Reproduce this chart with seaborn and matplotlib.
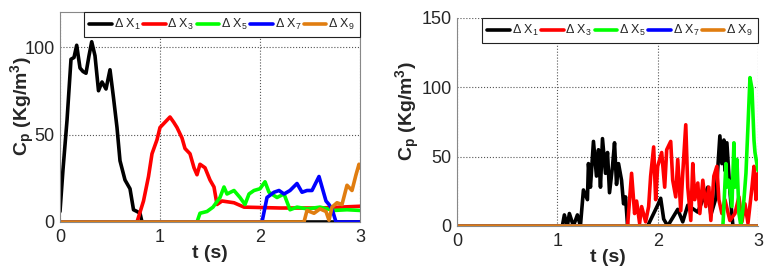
import pandas as pd
import matplotlib
matplotlib.use("Agg")
import matplotlib.pyplot as plt
import seaborn as sns

# ---- left panel data ----
names = ['ΔX1', 'ΔX3', 'ΔX5', 'ΔX7', 'ΔX9']
labels = [r'Δ X$_\mathregular{1}$', r'Δ X$_\mathregular{3}$', r'Δ X$_\mathregular{5}$',
          r'Δ X$_\mathregular{7}$', r'Δ X$_\mathregular{9}$']
colors = ['#000000', '#ff0000', '#00ff00', '#0000ff', '#e07d10']

l_x1_t = [0, 0.03, 0.07, 0.11, 0.14, 0.167, 0.2, 0.23, 0.26, 0.29, 0.317, 0.35, 0.385, 0.42,
          0.46, 0.5, 0.535, 0.57, 0.6, 0.65, 0.7, 0.735, 0.77, 0.8, 0.82, 3.0]
l_x1_v = [6, 30, 58, 93, 94, 101, 88, 86, 85, 95, 103, 95, 75, 80,
          76, 87, 71, 54, 35, 24, 19, 7, 6, 5, 0, 0]

l_x3_t = [0, 0.77, 0.835, 0.885, 0.92, 0.97, 1.0, 1.05, 1.1, 1.137, 1.17, 1.22, 1.25, 1.3,
          1.34, 1.37, 1.4, 1.45, 1.5, 1.54, 1.57, 1.62, 1.74, 1.84, 2.2, 2.6, 3.0]
l_x3_v = [0, 0, 12, 26, 39, 47, 54, 57, 60, 57, 54, 48, 42, 39,
          31, 27, 33, 31, 24, 20, 10, 12, 11, 8.5, 8, 8, 9]

l_x5_t = [0, 1.37, 1.4, 1.47, 1.53, 1.6, 1.64, 1.67, 1.74, 1.8, 1.85, 1.89, 1.94, 2.0,
          2.05, 2.09, 2.17, 2.24, 2.3, 2.37, 2.47, 2.6, 2.74, 2.87, 3.0]
l_x5_v = [0, 0, 5, 6, 8.5, 14, 20, 16, 18, 14, 10, 16, 18, 19,
          23, 17, 14, 16, 7, 8.5, 7.5, 8.5, 6.6, 7, 6.6]

l_x7_t = [0, 2.02, 2.07, 2.14, 2.19, 2.24, 2.3, 2.37, 2.42, 2.47, 2.52, 2.59, 2.62, 2.66,
          2.69, 2.72, 2.76, 3.0]
l_x7_v = [0, 0, 14, 17, 18, 16, 18, 22, 17, 18, 18, 26, 20, 12,
          10, 7.5, 0, 0]

l_x9_t = [0, 2.44, 2.47, 2.54, 2.6, 2.66, 2.69, 2.72, 2.77, 2.82, 2.87, 2.92, 2.96, 2.99, 3.0]
l_x9_v = [0, 0, 6.6, 5, 7.5, 6, 1, 8.5, 11, 10, 21, 18, 27, 33, 31]

# ---- right panel data ----
r_x1_t = [0, 1.05, 1.07, 1.1, 1.12, 1.16, 1.2, 1.23, 1.26, 1.3, 1.31, 1.33, 1.36, 1.39,
          1.41, 1.43, 1.45, 1.48, 1.5, 1.52, 1.55, 1.57, 1.59, 1.61, 1.64, 1.66, 1.68, 1.7,
          1.9, 2.0, 2.03, 2.06, 2.1, 2.2, 2.25, 2.3, 2.4, 2.5, 2.53, 2.58, 2.62, 2.64, 2.66,
          2.67, 2.69, 2.72, 2.75, 3.0]
r_x1_v = [0, 0, 8, 0, 9, 0, 8, 0, 26, 19, 45, 28, 61, 36,
          55, 28, 63, 38, 53, 24, 43, 60, 30, 45, 33, 16, 21, 0,
          0, 15, 20, 5, 0, 12, 3, 15, 10, 28, 8, 20, 65, 45, 62,
          40, 60, 25, 0, 0]

r_x3_t = [0, 1.7, 1.74, 1.77, 1.79, 1.82, 1.84, 1.88, 1.91, 1.93, 1.96, 1.98, 2.0, 2.04,
          2.07, 2.09, 2.13, 2.15, 2.18, 2.2, 2.23, 2.25, 2.28, 2.3, 2.33, 2.35, 2.37, 2.4,
          2.42, 2.45, 2.48, 2.51, 2.53, 2.56, 2.59, 2.61, 2.64, 2.67, 2.72, 2.77, 2.81, 2.84,
          2.87, 2.9, 2.94, 2.96, 2.98, 3.0]
r_x3_v = [0, 0, 38, 9, 18, 2, 14, 3, 14, 36, 57, 19, 43, 53,
          28, 55, 61, 33, 21, 48, 11, 38, 73, 28, 4, 45, 19, 31,
          9, 33, 14, 28, 4, 36, 43, 19, 9, 19, 4, 9, 21, 3,
          16, 2, 28, 43, 19, 38]

r_x5_t = [0, 2.65, 2.66, 2.68, 2.69, 2.71, 2.74, 2.76, 2.77, 2.79, 2.81, 2.83, 2.86, 2.88,
          2.9, 2.92, 2.94, 2.96, 2.97, 3.0]
r_x5_v = [0, 0, 14, 45, 28, 33, 14, 60, 28, 48, 9, 0, 19, 38,
          72, 107, 99, 62, 53, 40]

r_x7_t = [0, 3.0]
r_x7_v = [0, 0]
r_x9_t = [0, 3.0]
r_x9_v = [0, 0]


def to_frame(ts, vs):
    rows = []
    for name, t, v in zip(names, ts, vs):
        for a, b in zip(t, v):
            rows.append({'t': a, 'Cp': b, 'series': name})
    return pd.DataFrame(rows)


left_df = to_frame([l_x1_t, l_x3_t, l_x5_t, l_x7_t, l_x9_t],
                   [l_x1_v, l_x3_v, l_x5_v, l_x7_v, l_x9_v])
right_df = to_frame([r_x1_t, r_x3_t, r_x5_t, r_x7_t, r_x9_t],
                    [r_x1_v, r_x3_v, r_x5_v, r_x7_v, r_x9_v])

sns.set_style('white')
plt.rcParams['font.family'] = ['Liberation Sans', 'DejaVu Sans']
plt.rcParams['mathtext.default'] = 'regular'

fig = plt.figure(figsize=(7.65, 2.68), dpi=100)
ax1 = fig.add_axes([60 / 765, 46 / 268, 300 / 765, 210 / 268])
ax2 = fig.add_axes([457 / 765, 42 / 268, 301 / 765, 208 / 268])

for ax, df, ylim, yticks, lab_x in [(ax1, left_df, 120, [0, 50, 100], -0.077),
                                     (ax2, right_df, 150, [0, 50, 100, 150], -0.116)]:
    sns.lineplot(data=df, x='t', y='Cp', hue='series', palette=colors, sort=False,
                 estimator=None, linewidth=2.6, ax=ax, legend=False)
    ax.set_xlim(0, 3)
    ax.set_ylim(0, ylim)
    ax.set_xticks([0, 1, 2, 3])
    ax.set_yticks(yticks)
    ax.grid(True, linestyle=':', color='#555555', linewidth=0.8)
    ax.tick_params(axis='both', labelsize=13, length=2, direction='in')
    ax.tick_params(axis='x', pad=5)
    ax.tick_params(axis='y', pad=4)
    ax.set_xlabel('t (s)', fontsize=14, fontweight='bold', labelpad=-1)
    ax.set_ylabel(r'C$_p$ (Kg/m$^3$)', fontsize=14, fontweight='bold')
    ax.yaxis.set_label_coords(lab_x, 0.55)
    for s in ax.spines.values():
        s.set_color('#888888')
        s.set_linewidth(0.8)
    handles = [plt.Line2D([], [], color=c, linewidth=2.6) for c in colors]
    leg = ax.legend(handles, labels, ncol=5, loc='upper right', fontsize=9,
                    handlelength=1.8, handletextpad=0.15, columnspacing=0.2,
                    borderaxespad=0, borderpad=0.4, fancybox=False, framealpha=1)
    leg.get_frame().set_edgecolor('#222222')
    leg.get_frame().set_linewidth(0.8)

ax2.spines['top'].set_visible(False)
ax2.spines['right'].set_visible(False)

fig.savefig('out.png', dpi=100)
